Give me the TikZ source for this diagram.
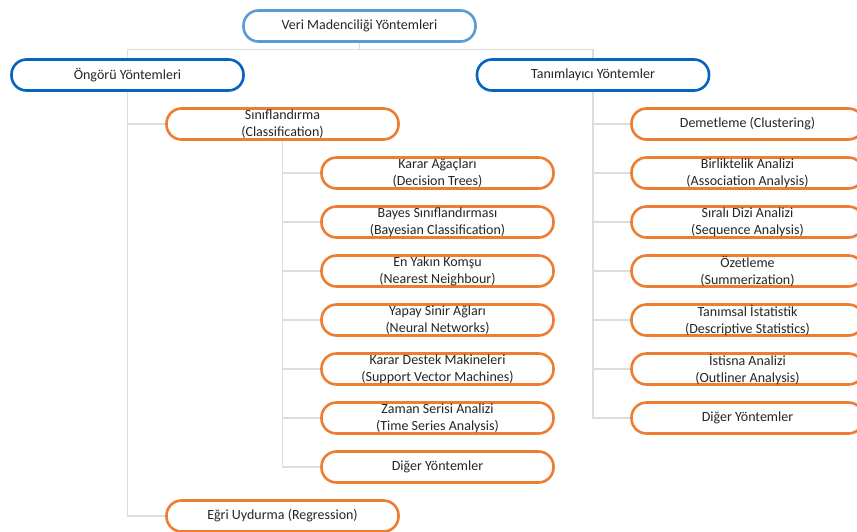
\documentclass[tikz,border=0pt]{standalone}
\usepackage{fontspec}
\setmainfont{Carlito}
\usetikzlibrary{positioning, backgrounds}

\definecolor{lightblue}{HTML}{5B9BD5}
\definecolor{darkblue}{HTML}{0563C1}
\definecolor{orangeline}{HTML}{ED7D31}
\definecolor{linkgray}{HTML}{DDDDDD}

\begin{document}
\begin{tikzpicture}[x=1pt, y=-1pt,
	every node/.style={fill=white, align=center, text=black!85, font=\fontsize{14}{17}\selectfont},
	box/.style={draw, line width=2.6pt, rounded corners=15pt, minimum width=232pt, minimum height=31pt, inner sep=0pt},
	link/.style={draw=linkgray, line width=1.3pt}]
		\clip (0,0) rectangle (857,531);
		\node[box, draw=lightblue] (veri) at (359.5,26) {Veri Madenciliği Yöntemleri};
		\node[box, draw=darkblue] (ongoru) at (127.5,75) {Öngörü Yöntemleri};
		\node[box, draw=darkblue] (tanim) at (593,75) {Tanımlayıcı Yöntemler};
		\node[box, draw=orangeline] (sinif) at (282.5,124) {Sınıflandırma\\(Classification)};
		\node[box, draw=orangeline] (egri) at (282.5,516) {Eğri Uydurma (Regression)};
		% alt yontemler, sol
		\foreach \i/\t in {
			1/{Karar Ağaçları\\(Decision Trees)},
			2/{Bayes Sınıflandırması\\(Bayesian Classification)},
			3/{En Yakın Komşu\\(Nearest Neighbour)},
			4/{Yapay Sinir Ağları\\(Neural Networks)},
			5/{Karar Destek Makineleri\\(Support Vector Machines)},
			6/{Zaman Serisi Analizi\\(Time Series Analysis)},
			7/{Diğer Yöntemler}}{
			\node[box, draw=orangeline] (sol\i) at (437.5, 124 + \i*49) {\t};
		}
		% alt yontemler, sag
		\foreach \i/\t in {
			1/{Demetleme (Clustering)},
			2/{Birliktelik Analizi\\(Association Analysis)},
			3/{Sıralı Dizi Analizi\\(Sequence Analysis)},
			4/{Özetleme\\(Summerization)},
			5/{Tanımsal İstatistik\\(Descriptive Statistics)},
			6/{İstisna Analizi\\(Outliner Analysis)},
			7/{Diğer Yöntemler}}{
			\node[box, draw=orangeline] (sag\i) at (747.5, 75 + \i*49) {\t};
		}
		\begin{pgfonlayer}{background}
			\draw[link] (veri.south) -- ++(0,7) -| (ongoru.north);
			\draw[link] (veri.south) -- ++(0,7) -| (tanim.north);
			\draw[link] (ongoru.south) |- (sinif.west);
			\draw[link] (ongoru.south) |- (egri.west);
			\foreach \i in {1,...,7} {
				\draw[link] (sinif.south) |- (sol\i.west);
				\draw[link] (tanim.south) |- (sag\i.west);
			}
		\end{pgfonlayer}
	\end{tikzpicture}
\end{document}
